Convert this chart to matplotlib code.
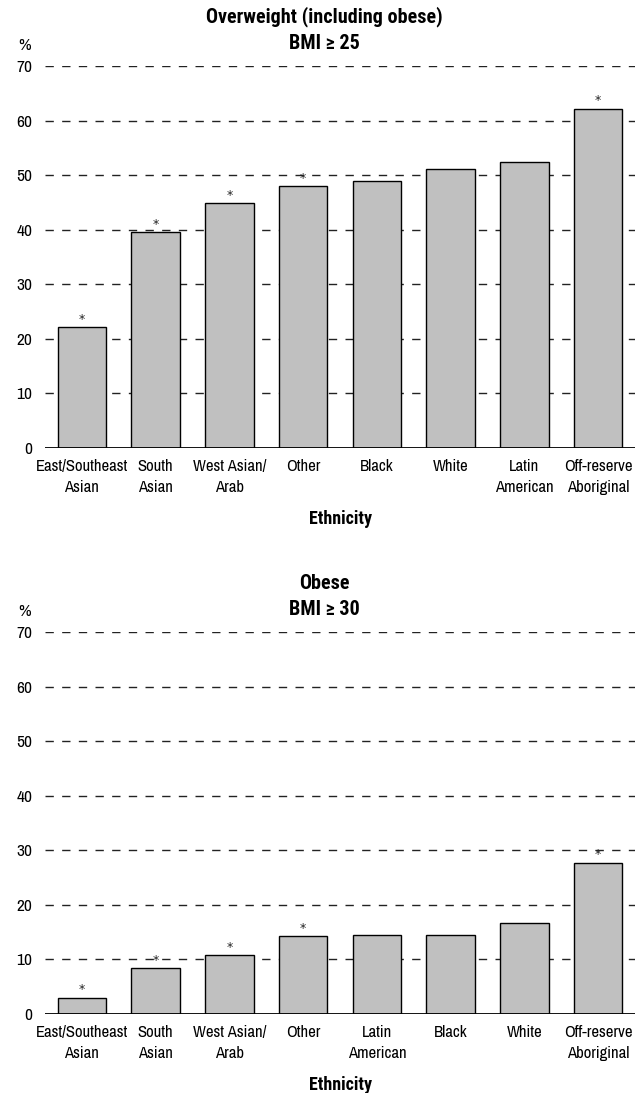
import matplotlib
matplotlib.use("Agg")
import matplotlib.pyplot as plt

FAM = ['Archivo Narrow', 'DejaVu Sans']
BOLD = ['Roboto Condensed', 'DejaVu Sans']
plt.rcParams['font.family'] = FAM

# ---- data ----
cats_over = ["East/Southeast\nAsian", "South\nAsian", "West Asian/\nArab", "Other",
             "Black", "White", "Latin\nAmerican", "Off-reserve\nAboriginal"]
vals_over = [22.1, 39.5, 44.9, 48.0, 49.0, 51.1, 52.5, 62.2]
star_over = [True, True, True, True, False, False, False, True]

cats_obese = ["East/Southeast\nAsian", "South\nAsian", "West Asian/\nArab", "Other",
              "Latin\nAmerican", "Black", "White", "Off-reserve\nAboriginal"]
vals_obese = [3.0, 8.4, 10.8, 14.3, 14.4, 14.5, 16.6, 27.7]
star_obese = [True, True, True, True, False, False, False, True]

yticks = [0, 10, 20, 30, 40, 50, 60, 70]

fig = plt.figure(figsize=(6.42, 10.93), dpi=100)
L, R = 45/642, 635/642
ax1 = fig.add_axes([L, 1-448/1093, R-L, (448-66)/1093])
ax2 = fig.add_axes([L, 1-1014/1093, R-L, (1014-632)/1093])

def draw(ax, cats, vals, stars, t1, t2):
    x = list(range(len(cats)))
    for yv in yticks[1:]:
        ax.axhline(yv, color="#222222", lw=1.0, ls=(0, (6, 6)), zorder=1)
    ax.bar(x, vals, width=0.655, color="#c0c0c0", edgecolor="black", lw=1.0, zorder=2)
    for xi, v, s in zip(x, vals, stars):
        if s:
            ax.annotate("*", (xi, v), xytext=(0, 1), textcoords="offset points",
                        ha="center", va="bottom", fontsize=9, color="#222222",
                        family="DejaVu Sans")
    ax.axhline(0, color="black", lw=1.3, zorder=3)
    ax.set_xlim(-0.5, len(cats) - 0.5)
    ax.set_ylim(0, 70)
    ax.set_yticks(yticks)
    ax.set_yticklabels([str(t) for t in yticks], fontsize=12.5)
    ax.set_xticks(x)
    ax.set_xticklabels(cats, fontsize=12, linespacing=1.45)
    ax.tick_params(axis="y", length=0, pad=9)
    ax.tick_params(axis="x", length=0, pad=8)
    for sp in ax.spines.values():
        sp.set_visible(False)
    ax.text(-0.035, 1.034, "%", transform=ax.transAxes, ha="center", va="bottom", fontsize=12.5)
    ax.set_xlabel("Ethnicity", fontsize=13, fontweight="bold", family=BOLD, labelpad=11)
    ax.text(0.473, 1.102, t1, transform=ax.transAxes, ha="center", va="bottom",
            fontsize=14.5, fontweight="bold", family=BOLD)
    ax.text(0.473, 1.034, t2, transform=ax.transAxes, ha="center", va="bottom",
            fontsize=14.5, fontweight="bold", family=BOLD)

draw(ax1, cats_over, vals_over, star_over, "Overweight (including obese)", "BMI \u2265 25")
draw(ax2, cats_obese, vals_obese, star_obese, "Obese", "BMI \u2265 30")

fig.savefig("out.png", dpi=100)
